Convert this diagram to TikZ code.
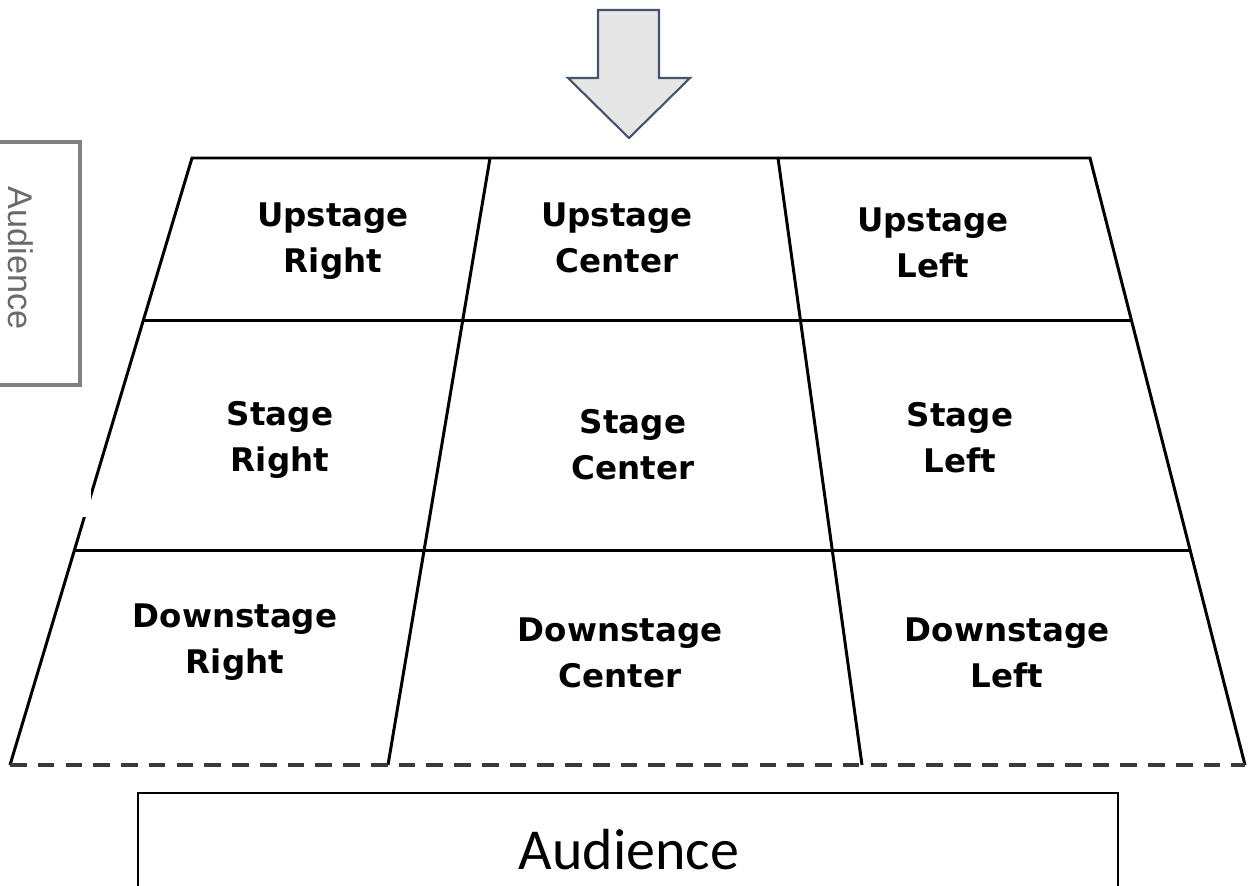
\documentclass[tikz,border=0pt]{standalone}
\usepackage{fontspec}
\setmainfont{DejaVu Sans}
\newfontfamily\calibrifont{Carlito}
\newfontfamily\arialfont{Liberation Sans}
\usetikzlibrary{positioning,calc}
\definecolor{arrowfill}{HTML}{E7E6E6}
\definecolor{slateline}{HTML}{44546A}
\definecolor{framegray}{HTML}{808080}
\definecolor{labelgray}{HTML}{6A6A6A}
\definecolor{dashgray}{HTML}{3A3A3A}

\begin{document}
\begin{tikzpicture}[
    x=0.02cm, y=-0.02cm,
    area/.style={font=\fontsize{18.5}{26}\selectfont\bfseries,align=center,
                 text=black},
    edge/.style={line width=1.7pt,black},
    front/.style={line width=2.3pt,dashgray,dash pattern=on 9.5pt off 6.3pt},
    pointer/.style={draw=slateline,fill=arrowfill,line width=1.2pt,
                    line join=miter},
    frame/.style={draw=framegray,line width=2.2pt},
    plainframe/.style={draw=black,line width=1pt}
  ]
    \clip (0,0) rectangle (1248,886);
    \fill[white] (0,0) rectangle (1248,886);

    % stage corners
    \coordinate (tl) at (192,158);
    \coordinate (tr) at (1090,158);
    \coordinate (bl) at (10,765);
    \coordinate (br) at (1245,765);
    \coordinate (ta) at (490,158);
    \coordinate (ba) at (388,765);
    \coordinate (tb) at (778,158);
    \coordinate (bb) at (862,765);

    % pointer from above
    \draw[pointer] (598,10) -- (659,10) -- (659,78) -- (690,78)
      -- (629,138) -- (568,78) -- (598,78) -- cycle;

    % side audience box
    \draw[frame] (-20,142) rectangle (80,385);
    \node[rotate=-90,text=labelgray,font=\arialfont\fontsize{19.5}{22}\selectfont]
      (sideaud) at (21,258) {Audience};

    % stage grid
    \draw[edge] (bl) -- (tl) -- (tr) -- (br);
    \draw[edge] (ta) -- (ba);
    \draw[edge] (tb) -- (bb);
    \draw[edge] ($(tl)!0.2669!(bl)$) -- ($(tr)!0.2669!(br)$);
    \draw[edge] ($(tl)!0.6474!(bl)$) -- ($(tr)!0.6474!(br)$);
    \draw[front] (bl) -- (br);
    \fill[white] (0,430) rectangle (91,517);

    % areas
    \node[area] (usr) at (333,241) {Upstage\\Right};
    \node[area] (usc) at (617,238) {Upstage\\Center};
    \node[area] (usl) at (933,243) {Upstage\\Left};
    \node[area] (sr)  at (280,440) {Stage\\Right};
    \node[area] (sc)  at (633,445) {Stage\\Center};
    \node[area] (sl)  at (960,438) {Stage\\Left};
    \node[area] (dsr) at (235,642) {Downstage\\Right};
    \node[area] (dsc) at (620,653) {Downstage\\Center};
    \node[area] (dsl) at (1007,653) {Downstage\\Left};

    % audience below
    \draw[plainframe] (138,793) rectangle (1118,920);
    \node[font=\calibrifont\fontsize{33}{36}\selectfont] (aud) at (629,850) {Audience};
\end{tikzpicture}
\end{document}
